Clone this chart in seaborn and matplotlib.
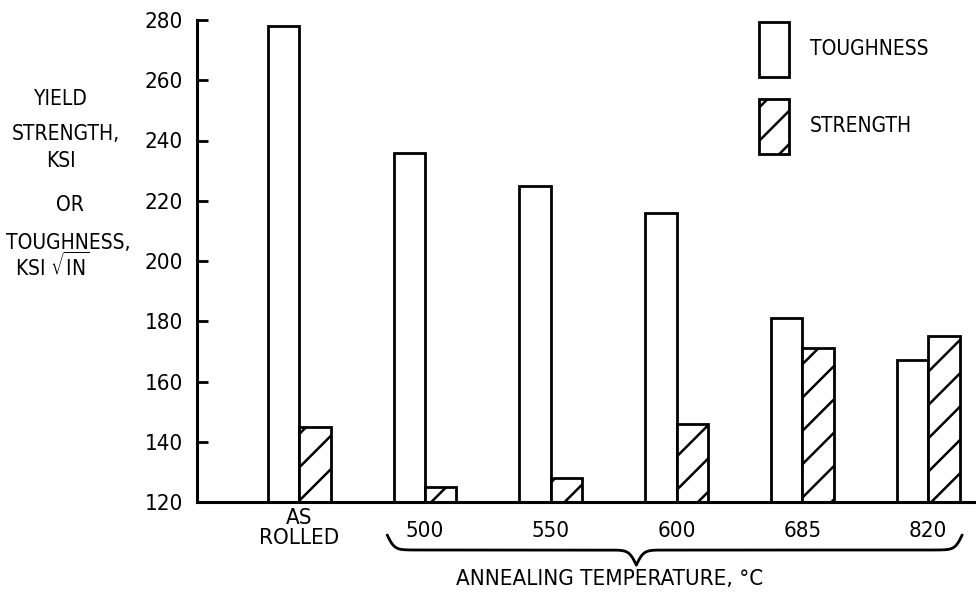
import numpy as np
import pandas as pd
import seaborn as sns
import matplotlib.pyplot as plt
from matplotlib.transforms import ScaledTranslation, blended_transform_factory

conditions = ["AS\nROLLED", "500", "550", "600", "685", "820"]
toughness = [278, 236, 225, 216, 181, 167]
strength = [145, 125, 128, 146, 171, 175]
series = ["TOUGHNESS", "STRENGTH"]
y_ticks = [120, 140, 160, 180, 200, 220, 240, 260, 280]

sns.set_theme(style="white")
plt.rcParams["font.family"] = ["DejaVu Sans"]
plt.rcParams["font.stretch"] = "condensed"
plt.rcParams["hatch.color"] = "black"
plt.rcParams["hatch.linewidth"] = 1.8
plt.rcParams["text.color"] = "black"

df = pd.DataFrame({"condition": conditions, "TOUGHNESS": toughness, "STRENGTH": strength})
df = df.melt(id_vars="condition", var_name="property", value_name="value")

fig = plt.figure(figsize=(9.76, 5.96), dpi=100)
ax = fig.add_axes([197 / 976, 1 - 502 / 596, 779 / 976, 482 / 596])

sns.barplot(
    data=df, x="condition", y="value", hue="property", hue_order=series,
    palette=["white", "white"], edgecolor="black", linewidth=2.0,
    width=0.5, gap=0, legend=False, ax=ax,
)
for bar in ax.containers[1]:
    bar.set_hatch("/")

ax.set_xlim(-0.812, 5.38)
ax.set_ylim(120, 280)
ax.set_yticks(y_ticks)
ax.set_xlabel("")
ax.set_ylabel("")
for side in ["top", "right"]:
    ax.spines[side].set_visible(False)
for side in ["left", "bottom"]:
    ax.spines[side].set_linewidth(2.2)
    ax.spines[side].set_color("black")

ax.tick_params(axis="y", left=True, direction="in", length=8, width=2,
               pad=10, labelsize=16, colors="black")
ax.tick_params(axis="x", bottom=False, length=0, pad=14, labelsize=16, colors="black")
for i, lab in enumerate(ax.get_xticklabels()):
    lab.set_linespacing(0.95)
    if i == 0:
        lab.set_transform(lab.get_transform() + ScaledTranslation(0, 13 / 100, fig.dpi_scale_trans))

# y-axis caption
ylab_lines = [("YIELD", 61, 99), ("STRENGTH,", 66, 134), ("KSI", 61, 161),
              ("OR", 70, 205), ("TOUGHNESS,", 68, 243), (r"KSI $\sqrt{\mathrm{IN}}$", 52, 266)]
for txt, px, py in ylab_lines:
    fig.text(px / 976, 1 - py / 596, txt, ha="center", va="center", fontsize=15)

# legend
handles = [ax.containers[0][0], ax.containers[1][0]]
fig.legend(handles, series, loc="upper left", bbox_to_anchor=(759 / 976, 1 - 22 / 596),
           bbox_transform=fig.transFigure, frameon=False, fontsize=15,
           handlelength=1.45, handleheight=3.68, handletextpad=1.0,
           labelspacing=1.05, borderpad=0, borderaxespad=0)

# curly brace under the annealed conditions
trans = blended_transform_factory(ax.transData, fig.transFigure)


def half_brace(x_from, x_to, beta=35):
    xs = np.linspace(x_from, x_to, 300)
    v = (1 / (1 + np.exp(-beta * np.abs(xs - x_from)))
         + 1 / (1 + np.exp(beta * np.abs(xs - x_to))))
    return xs, v


tip = 2.68
for x_from in [1 - 0.3, 5 + 0.27]:
    xs, v = half_brace(x_from, tip)
    ypx = 535 + (v - 0.5) * 30
    ax.plot(xs, 1 - ypx / 596, color="black", lw=2.0, transform=trans, clip_on=False)

fig.text(610 / 976, 1 - 579 / 596, "ANNEALING TEMPERATURE, °C", ha="center", va="center", fontsize=16)

fig.savefig("out.png", dpi=100)
